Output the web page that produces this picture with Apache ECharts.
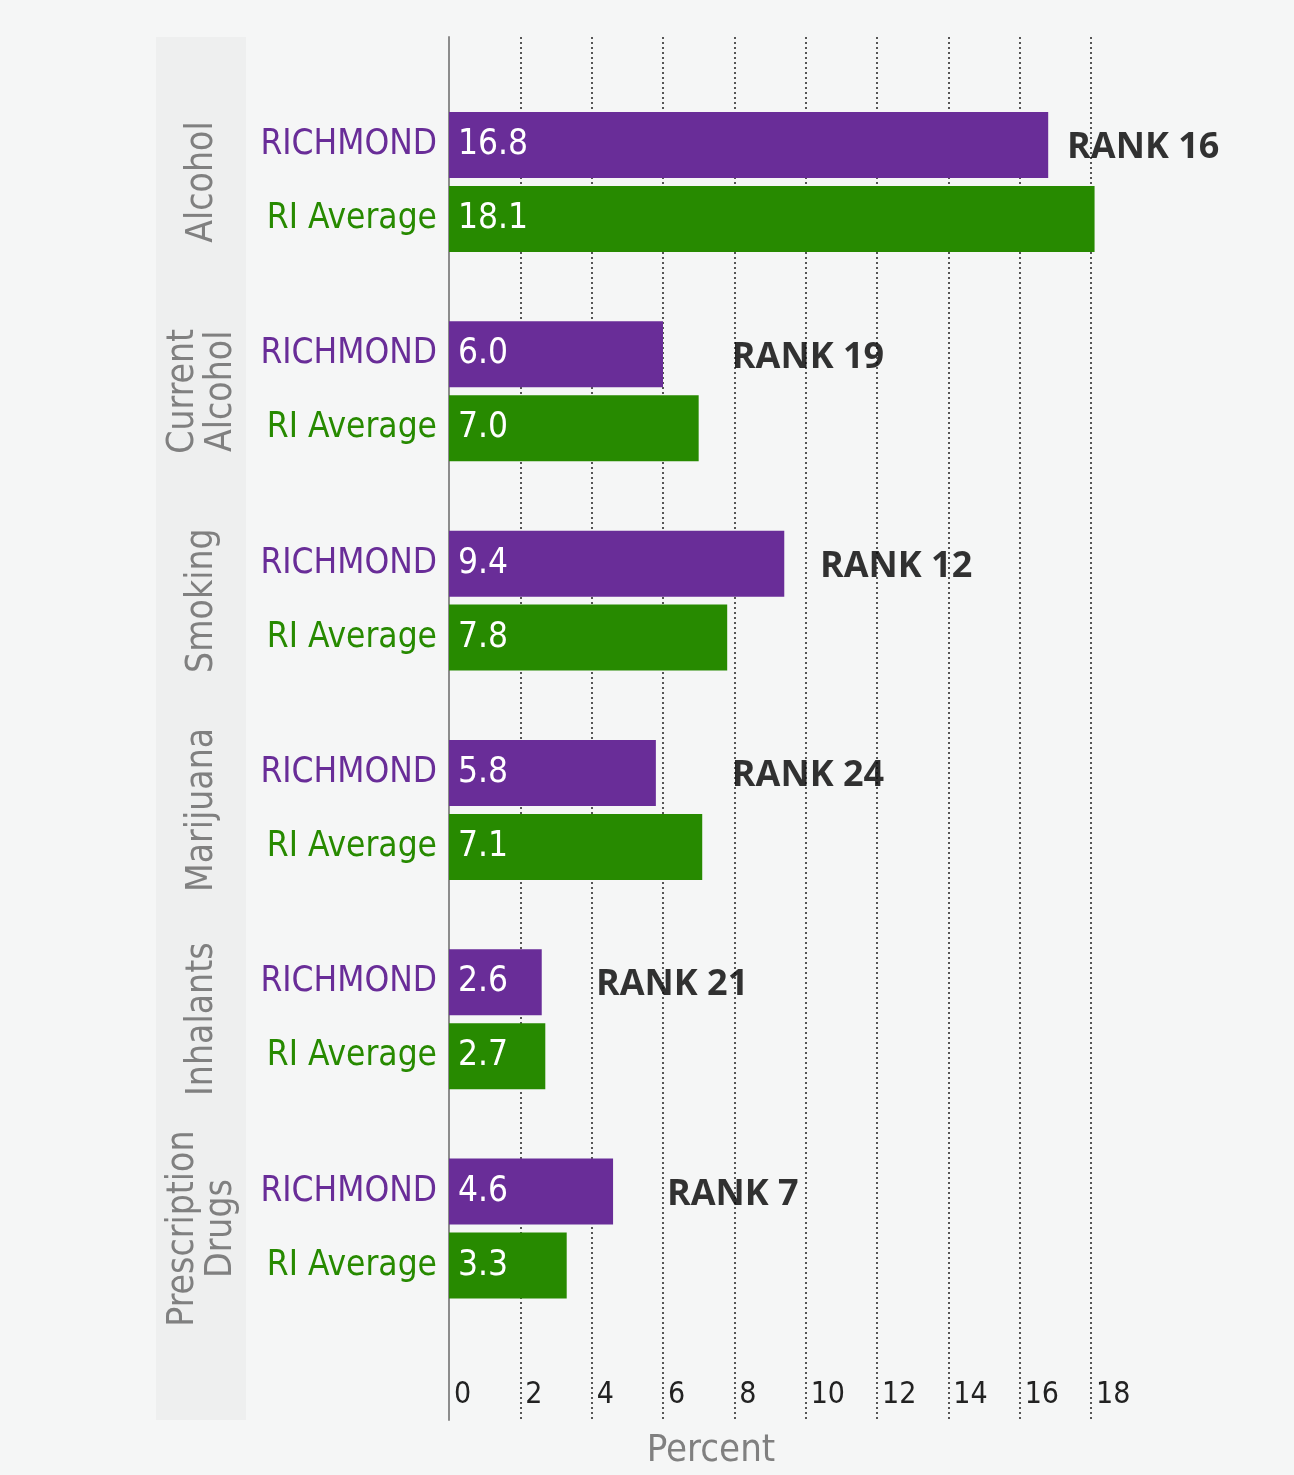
<!DOCTYPE html>
<html>
<head>
<meta charset="utf-8">
<title>Richmond vs RI Average</title>
<script src="https://cdn.jsdelivr.net/npm/echarts@6/dist/echarts.min.js"></script>
<style>
  html, body { margin: 0; padding: 0; background: #f5f6f6; }
  #chart { width: 1294px; height: 1475px; }
</style>
</head>
<body>
<div id="chart"></div>
<script>
// ---- data ----
const categories = ["Alcohol", "Current\nAlcohol", "Smoking", "Marijuana", "Inhalants", "Prescription\nDrugs"];
const richmond = [16.8, 6.0, 9.4, 5.8, 2.6, 4.6];
const riAverage = [18.1, 7.0, 7.8, 7.1, 2.7, 3.3];
const ranks = ["RANK 16", "RANK 19", "RANK 12", "RANK 24", "RANK 21", "RANK 7"];
const rankPos = [17.33, 7.93, 10.4, 7.93, 4.12, 6.11];   // where each rank note starts (percent units)
const zeros = [0, 0, 0, 0, 0, 0];
const axisMax = 18;
const axisStep = 2;

const PURPLE = "#692d98";
const GREEN = "#278a00";
const FONT = "'DejaVu Sans Condensed', 'Liberation Sans Narrow', sans-serif";

const chart = echarts.init(document.getElementById("chart"));

chart.setOption({
  backgroundColor: "#f5f6f6",
  animation: false,
  graphic: [
    { type: "rect", z: -10, shape: { x: 156, y: 37, width: 90, height: 1383 }, style: { fill: "#eeefef" } }
  ],
  grid: [
    { left: 449, right: 203, top: 77.35, bottom: 141.8 },
    { left: 449, right: 203, top: 37, bottom: 55 }
  ],
  xAxis: [
    { type: "value", gridIndex: 0, min: 0, max: axisMax, show: false },
    {
      type: "value", gridIndex: 1, min: 0, max: axisMax, interval: axisStep,
      axisLine: { show: false },
      axisTick: { show: false },
      axisLabel: {
        inside: true, margin: 10, align: "left", padding: [0, 0, 0, 5],
        color: "#222", fontSize: 30, fontFamily: FONT
      },
      splitLine: { show: true, lineStyle: { color: "#555", width: 2, type: [2, 3] } },
      name: "Percent",
      nameLocation: "middle",
      nameGap: 12,
      nameTextStyle: { color: "#808080", fontSize: 38, fontFamily: FONT, padding: [0, 118, 0, 0] }
    }
  ],
  yAxis: [
    {
      type: "category", gridIndex: 0, data: categories, inverse: true,
      axisLine: { show: false },
      axisTick: { show: false },
      axisLabel: {
        interval: 0, rotate: 90, margin: 247, align: "center", verticalAlign: "middle",
        color: "#808080", fontSize: 37, lineHeight: 38, fontFamily: FONT
      }
    },
    {
      type: "value", gridIndex: 1, min: 0, max: 1,
      axisLine: { show: true, lineStyle: { color: "#8c8c8c", width: 2 } },
      axisTick: { show: false },
      axisLabel: { show: false },
      splitLine: { show: false }
    }
  ],
  series: [
    {
      name: "RICHMOND label", type: "bar", stack: "r", data: zeros,
      barWidth: 66, barGap: "12%",
      label: { show: true, position: "left", distance: 12, formatter: "RICHMOND",
               color: PURPLE, fontSize: 35, fontFamily: FONT }
    },
    {
      name: "RICHMOND", type: "bar", stack: "r", data: richmond,
      barWidth: 66, barGap: "12%", clip: false,
      itemStyle: { color: PURPLE },
      label: { show: true, position: "insideLeft", distance: 9, color: "#fff",
               fontSize: 35, fontFamily: FONT, formatter: p => p.value.toFixed(1) }
    },
    {
      name: "RI Average label", type: "bar", stack: "a", data: zeros,
      barWidth: 66, barGap: "12%",
      label: { show: true, position: "left", distance: 12, formatter: "RI Average",
               color: GREEN, fontSize: 35, fontFamily: FONT }
    },
    {
      name: "RI Average", type: "bar", stack: "a", data: riAverage,
      barWidth: 66, barGap: "12%", clip: false,
      itemStyle: { color: GREEN },
      label: { show: true, position: "insideLeft", distance: 9, color: "#fff",
               fontSize: 35, fontFamily: FONT, formatter: p => p.value.toFixed(1) }
    },
    {
      name: "Rank", type: "scatter", symbolSize: 0,
      data: rankPos.map((x, i) => [x, i]),
      label: {
        show: true, position: "right", distance: 0, offset: [0, -34],
        formatter: p => ranks[p.dataIndex],
        color: "#000", fontSize: 36, fontWeight: "bold", fontFamily: "'Open Sans', sans-serif"
      }
    }
  ]
});

window.addEventListener("resize", chart.resize);
</script>
</body>
</html>
